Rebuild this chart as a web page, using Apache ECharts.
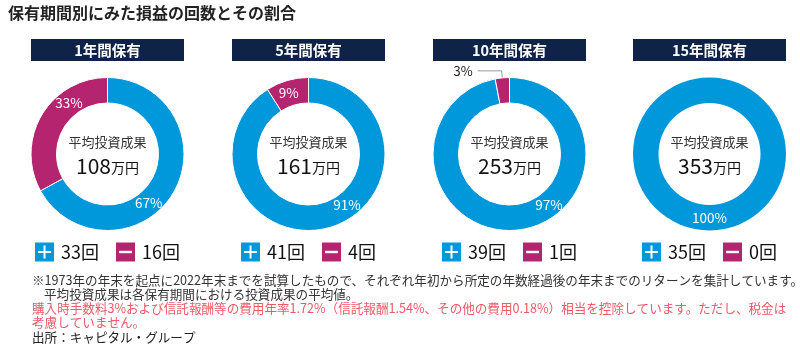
<!DOCTYPE html>
<html>
<head>
<meta charset="utf-8">
<script src="https://cdn.jsdelivr.net/npm/echarts@6/dist/echarts.min.js"></script>
<style>
html,body{margin:0;padding:0;background:#fff;}
#chart{width:800px;height:348px;}
</style>
</head>
<body>
<div id="chart"></div>
<script>
// ---- data ----
const titleText = '保有期間別にみた損益の回数とその割合';
const periods = ['1年間保有', '5年間保有', '10年間保有', '15年間保有'];
const gainPct = [67, 91, 97, 100];
const lossPct = [33, 9, 3, 0];
const gainCount = [33, 41, 39, 35];
const lossCount = [16, 4, 1, 0];
const avgResult = [108, 161, 253, 353];
const centerLabel = '平均投資成果';
const unitLabel = '万円';
const countUnit = '回';
const notes = [
  '※1973年の年末を起点に2022年末までを試算したもので、それぞれ年初から所定の年数経過後の年末までのリターンを集計しています。',
  '平均投資成果は各保有期間における投資成果の平均値。',
  '購入時手数料3%および信託報酬等の費用年率1.72%（信託報酬1.54%、その他の費用0.18%）相当を控除しています。ただし、税金は',
  '考慮していません。',
  '出所：キャピタル・グループ'
];

// ---- style / layout ----
const FONT = '"Noto Sans CJK JP", "Noto Sans", sans-serif';
const BLUE = '#0098da';
const MAG = '#b4246f';
const NAVY = '#0e2347';
const PINK = '#ec5a66';
const centersX = [107.5, 308.5, 509.5, 709.5];
const centerY = 154;
const rIn = 51, rOut = 76.5;
// label angles (deg clockwise from 12 o'clock) for [gain, loss]; null = outside label
const labelAngles = [[140, 323], [143, 342], [142, null], [180, null]];
const labelR = 64;

const chart = echarts.init(document.getElementById('chart'), null, {renderer: 'canvas'});

const series = periods.map((p, i) => {
  const data = [
    {name: '+', value: gainPct[i], itemStyle: {color: BLUE}},
    {name: '-', value: lossPct[i], itemStyle: {color: MAG}}
  ];
  if (lossPct[i] === 0) {
    data[1].label = {show: false};
  } else if (labelAngles[i][1] === null) {
    data[1].label = {position: 'outside', color: '#222', fontSize: 13};
    data[1].labelLine = {show: true, length: 7, length2: 24, smooth: false,
      lineStyle: {color: '#9a9a9a', width: 1}};
  }
  return {
    type: 'pie',
    center: [centersX[i], centerY],
    radius: [rIn, rOut],
    startAngle: 90,
    clockwise: true,
    avoidLabelOverlap: false,
    silent: true,
    animation: false,
    itemStyle: {borderColor: '#fff', borderWidth: lossPct[i] === 0 ? 0 : 1},
    label: {
      show: true, position: 'inside', color: '#fff', fontSize: 13.5,
      fontFamily: FONT, formatter: '{c}%'
    },
    labelLine: {show: false},
    labelLayout: function (params) {
      const a = labelAngles[i][params.dataIndex];
      if (a === null || a === undefined) return;
      const rad = a * Math.PI / 180;
      return {
        x: centersX[i] + labelR * Math.sin(rad),
        y: centerY - labelR * Math.cos(rad),
        align: 'center', verticalAlign: 'middle'
      };
    },
    data: data
  };
});

// measure text widths
const mctx = document.createElement('canvas').getContext('2d');
function tw(t, size) { mctx.font = size + 'px ' + FONT; return mctx.measureText(t).width; }

const graphics = [];
graphics.push({
  type: 'text', left: 8, top: 5,
  style: {text: titleText, font: 'bold 16px ' + FONT, fill: '#222'}
});

periods.forEach((p, i) => {
  const cx = centersX[i];
  // header
  graphics.push({type: 'rect', shape: {x: cx - 76.5, y: 39, width: 153, height: 22}, style: {fill: NAVY}});
  graphics.push({type: 'text', x: cx, y: 50,
    style: {text: p, font: 'bold 14.5px ' + FONT, fill: '#fff', textAlign: 'center', textVerticalAlign: 'middle'}});
  // center text
  graphics.push({type: 'text', x: cx, y: 142,
    style: {text: centerLabel, font: '13px ' + FONT, fill: '#333', textAlign: 'center', textVerticalAlign: 'middle'}});
  graphics.push({type: 'text', x: cx, y: 166,
    style: {
      text: '{n|' + avgResult[i] + '}{u|' + unitLabel + '}',
      textAlign: 'center', textVerticalAlign: 'middle',
      rich: {
        n: {fontSize: 21, fontFamily: FONT, fill: '#111', color: '#111'},
        u: {fontSize: 14, fontFamily: FONT, fill: '#111', color: '#111', padding: [3, 0, 0, 0]}
      }
    }});
  // legend
  const t1 = gainCount[i] + countUnit, t2 = lossCount[i] + countUnit;
  const w1 = tw(t1, 18), w2 = tw(t2, 18);
  const sq = 19, g1 = 7, g2 = 17;
  const total = sq + g1 + w1 + g2 + sq + g1 + w2;
  let x = cx - total / 2;
  const ly = 252;
  graphics.push({type: 'rect', shape: {x: x, y: ly - sq / 2, width: sq, height: sq}, style: {fill: BLUE}});
  graphics.push({type: 'rect', shape: {x: x + 3, y: ly - 1, width: sq - 6, height: 2}, style: {fill: '#fff'}});
  graphics.push({type: 'rect', shape: {x: x + sq / 2 - 1, y: ly - sq / 2 + 3, width: 2, height: sq - 6}, style: {fill: '#fff'}});
  x += sq + g1;
  graphics.push({type: 'text', x: x, y: ly,
    style: {text: t1, font: '18px ' + FONT, fill: '#111', textVerticalAlign: 'middle'}});
  x += w1 + g2;
  graphics.push({type: 'rect', shape: {x: x, y: ly - sq / 2, width: sq, height: sq}, style: {fill: MAG}});
  graphics.push({type: 'rect', shape: {x: x + 3, y: ly - 1.2, width: sq - 6, height: 2.4}, style: {fill: '#fff'}});
  x += sq + g1;
  graphics.push({type: 'text', x: x, y: ly,
    style: {text: t2, font: '18px ' + FONT, fill: '#111', textVerticalAlign: 'middle'}});
});

// notes
const noteX = [32, 44, 32, 32, 32];
const noteY = [280, 294, 308, 322, 337];
const noteColor = ['#333', '#333', PINK, PINK, '#222'];
notes.forEach((n, k) => {
  graphics.push({type: 'text', x: noteX[k], y: noteY[k],
    style: {text: n, font: '12.58px ' + FONT, fill: noteColor[k], textVerticalAlign: 'middle'}});
});

chart.setOption({
  animation: false,
  series: series,
  graphic: graphics
});
</script>
</body>
</html>
